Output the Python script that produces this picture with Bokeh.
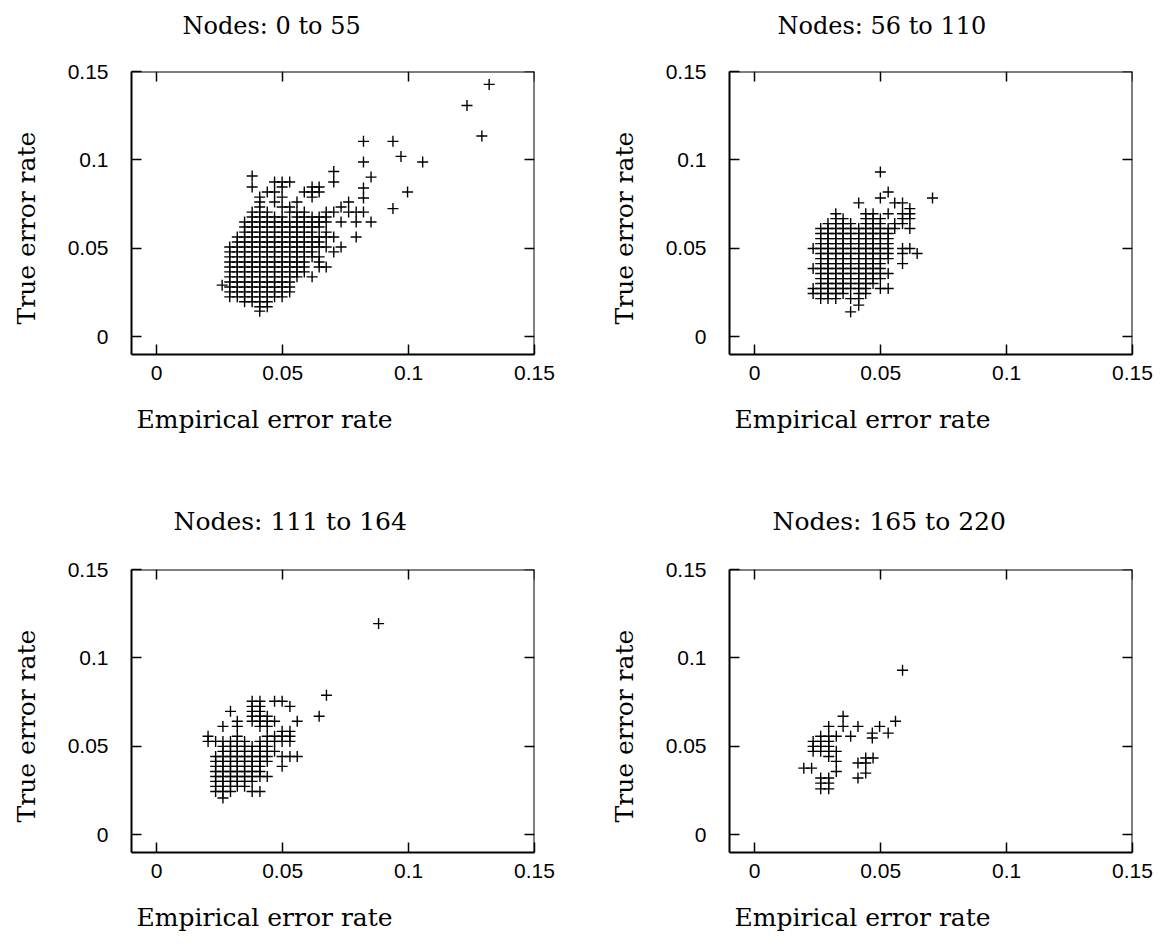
import math
from bokeh.plotting import figure
from bokeh.layouts import column, row
from bokeh.models import (Range1d, LinearAxis, FixedTicker, CustomJSTickFormatter,
                          Title, ColumnDataSource)
from bokeh.embed import file_html
from bokeh.resources import INLINE

# ---------------- data ----------------
X_RANGE = (-0.01, 0.15)
Y_RANGE = (-0.01, 0.15)
TICKS = [0, 0.05, 0.1, 0.15]
TITLES = ["Nodes: 0 to 55", "Nodes: 56 to 110", "Nodes: 111 to 164", "Nodes: 165 to 220"]
X_LABEL = "Empirical error rate"
Y_LABEL = "True error rate"

# Panel 1 (nodes 0-55): true error rate per row, empirical error rates in that row
rows_y_1 = [0.1427, 0.1308, 0.1135, 0.1105, 0.1020, 0.0988, 0.0935, 0.0909, 0.0903, 0.0875,
            0.0847, 0.0841, 0.0819, 0.0790, 0.0785, 0.0762, 0.0734, 0.0725, 0.0705, 0.0677,
            0.0649, 0.0621, 0.0592, 0.0564, 0.0536, 0.0508, 0.0480, 0.0452, 0.0423, 0.0395,
            0.0367, 0.0339, 0.0310, 0.0292, 0.0282, 0.0254, 0.0226, 0.0198, 0.0170, 0.0145]
rows_x_1 = [
    [0.1320],
    [0.1232],
    [0.1291],
    [0.0821, 0.0938],
    [0.0970],
    [0.0821, 0.1056],
    [0.0703],
    [0.0379],
    [0.0851],
    [0.0468, 0.0498, 0.0528, 0.0703],
    [0.0379, 0.0498, 0.0617, 0.0645],
    [0.0821],
    [0.0439, 0.0468, 0.0586, 0.0617, 0.0645, 0.0996],
    [0.0409, 0.0498, 0.0617],
    [0.0821],
    [0.0409, 0.0468, 0.0557, 0.0762],
    [0.0409, 0.0498, 0.0528, 0.0732],
    [0.0938],
    [0.0379, 0.0409, 0.0439, 0.0528, 0.0557, 0.0586, 0.0673, 0.0703, 0.0762, 0.0792, 0.0821],
    [0.0379, 0.0409, 0.0439, 0.0468, 0.0498, 0.0557, 0.0586, 0.0617, 0.0645, 0.0673],
    [0.0349, 0.0379, 0.0409, 0.0439, 0.0468, 0.0498, 0.0528, 0.0557, 0.0586, 0.0617, 0.0645, 0.0673, 0.0732, 0.0792, 0.0851],
    [0.0349, 0.0379, 0.0409, 0.0439, 0.0468, 0.0498, 0.0528, 0.0557, 0.0586, 0.0617, 0.0645],
    [0.0349, 0.0379, 0.0409, 0.0439, 0.0468, 0.0498, 0.0528, 0.0557, 0.0586, 0.0617, 0.0673],
    [0.0320, 0.0349, 0.0379, 0.0409, 0.0439, 0.0468, 0.0498, 0.0528, 0.0557, 0.0586, 0.0617, 0.0645, 0.0673, 0.0703, 0.0792],
    [0.0320, 0.0349, 0.0379, 0.0409, 0.0439, 0.0468, 0.0498, 0.0528, 0.0557, 0.0586, 0.0617, 0.0645],
    [0.0290, 0.0320, 0.0349, 0.0379, 0.0409, 0.0439, 0.0468, 0.0498, 0.0528, 0.0557, 0.0586, 0.0617, 0.0645, 0.0673, 0.0732],
    [0.0290, 0.0320, 0.0349, 0.0379, 0.0409, 0.0439, 0.0468, 0.0498, 0.0528, 0.0557, 0.0586, 0.0617, 0.0703],
    [0.0290, 0.0320, 0.0349, 0.0379, 0.0409, 0.0439, 0.0468, 0.0498, 0.0528, 0.0557, 0.0586, 0.0617, 0.0645],
    [0.0290, 0.0320, 0.0349, 0.0379, 0.0409, 0.0439, 0.0468, 0.0498, 0.0528, 0.0557, 0.0586, 0.0645],
    [0.0290, 0.0320, 0.0349, 0.0379, 0.0409, 0.0439, 0.0468, 0.0498, 0.0528, 0.0557, 0.0586, 0.0645, 0.0673],
    [0.0290, 0.0320, 0.0349, 0.0379, 0.0409, 0.0439, 0.0468, 0.0498, 0.0528, 0.0557, 0.0586],
    [0.0290, 0.0320, 0.0349, 0.0379, 0.0409, 0.0439, 0.0468, 0.0498, 0.0528, 0.0557, 0.0617],
    [0.0290, 0.0320, 0.0349, 0.0379, 0.0409, 0.0439, 0.0468, 0.0498, 0.0528],
    [0.0260],
    [0.0290, 0.0320, 0.0349, 0.0379, 0.0409, 0.0439, 0.0468, 0.0498, 0.0528],
    [0.0290, 0.0320, 0.0349, 0.0379, 0.0409, 0.0439, 0.0468, 0.0498, 0.0528],
    [0.0290, 0.0320, 0.0349, 0.0379, 0.0409, 0.0439, 0.0468, 0.0498],
    [0.0349, 0.0379, 0.0409, 0.0439],
    [0.0409, 0.0439],
    [0.0409],
]

# Panel 2 (nodes 56-110)
rows_y_2 = [0.0932, 0.0819, 0.0785, 0.0757, 0.0725, 0.0696, 0.0668, 0.0640, 0.0612, 0.0584,
            0.0555, 0.0527, 0.0499, 0.0471, 0.0442, 0.0414, 0.0386, 0.0358, 0.0329, 0.0301,
            0.0273, 0.0245, 0.0216, 0.0179, 0.0141]
rows_x_2 = [
    [0.0499],
    [0.0530],
    [0.0499, 0.0706],
    [0.0413, 0.0556, 0.0587],
    [0.0616],
    [0.0322, 0.0441, 0.0470, 0.0530, 0.0587, 0.0616],
    [0.0322, 0.0351, 0.0441, 0.0470, 0.0499, 0.0587, 0.0616],
    [0.0291, 0.0322, 0.0351, 0.0381, 0.0441, 0.0470, 0.0499, 0.0556, 0.0587],
    [0.0262, 0.0291, 0.0322, 0.0351, 0.0381, 0.0413, 0.0441, 0.0470, 0.0499, 0.0530, 0.0556, 0.0616],
    [0.0262, 0.0291, 0.0322, 0.0351, 0.0381, 0.0413, 0.0441, 0.0470, 0.0499, 0.0530],
    [0.0262, 0.0291, 0.0322, 0.0351, 0.0381, 0.0413, 0.0441, 0.0470, 0.0499, 0.0530],
    [0.0262, 0.0291, 0.0322, 0.0351, 0.0381, 0.0413, 0.0441, 0.0470, 0.0499, 0.0530],
    [0.0232, 0.0262, 0.0291, 0.0322, 0.0351, 0.0381, 0.0413, 0.0441, 0.0470, 0.0499, 0.0530, 0.0587, 0.0616],
    [0.0262, 0.0291, 0.0322, 0.0351, 0.0381, 0.0413, 0.0441, 0.0470, 0.0499, 0.0530, 0.0587, 0.0645],
    [0.0262, 0.0291, 0.0322, 0.0351, 0.0381, 0.0413, 0.0441, 0.0470, 0.0499, 0.0530],
    [0.0262, 0.0291, 0.0322, 0.0351, 0.0381, 0.0413, 0.0441, 0.0470, 0.0499, 0.0587],
    [0.0232, 0.0262, 0.0291, 0.0322, 0.0351, 0.0381, 0.0413, 0.0441, 0.0470, 0.0499],
    [0.0262, 0.0291, 0.0322, 0.0351, 0.0381, 0.0413, 0.0441, 0.0470, 0.0499, 0.0530],
    [0.0262, 0.0291, 0.0322, 0.0351, 0.0381, 0.0413, 0.0441, 0.0470, 0.0499],
    [0.0262, 0.0291, 0.0322, 0.0351, 0.0381, 0.0413, 0.0441, 0.0470],
    [0.0232, 0.0262, 0.0291, 0.0322, 0.0351, 0.0381, 0.0413, 0.0441, 0.0499, 0.0530],
    [0.0232, 0.0262, 0.0291, 0.0322, 0.0351, 0.0413, 0.0441],
    [0.0262, 0.0291, 0.0322, 0.0381, 0.0413],
    [0.0413],
    [0.0381],
]

# Panel 3 (nodes 111-164)
rows_y_3 = [0.1194, 0.0789, 0.0755, 0.0726, 0.0698, 0.0670, 0.0642, 0.0613, 0.0585, 0.0557,
            0.0528, 0.0500, 0.0472, 0.0443, 0.0415, 0.0387, 0.0358, 0.0330, 0.0302, 0.0274,
            0.0245, 0.0208]
rows_x_3 = [
    [0.0881],
    [0.0674],
    [0.0379, 0.0410, 0.0468, 0.0498],
    [0.0379, 0.0410, 0.0529],
    [0.0293, 0.0379, 0.0410],
    [0.0379, 0.0410, 0.0439, 0.0645],
    [0.0320, 0.0379, 0.0410, 0.0439, 0.0468, 0.0558],
    [0.0263, 0.0320, 0.0410, 0.0439],
    [0.0498, 0.0529],
    [0.0204, 0.0320, 0.0439, 0.0468, 0.0498, 0.0529],
    [0.0204, 0.0234, 0.0263, 0.0293, 0.0320, 0.0349, 0.0410, 0.0439, 0.0468, 0.0498, 0.0529],
    [0.0263, 0.0293, 0.0320, 0.0349, 0.0379, 0.0410, 0.0439],
    [0.0263, 0.0293, 0.0320, 0.0349, 0.0379, 0.0410, 0.0439, 0.0468],
    [0.0234, 0.0263, 0.0293, 0.0320, 0.0349, 0.0379, 0.0410, 0.0439, 0.0498, 0.0529, 0.0558],
    [0.0234, 0.0263, 0.0293, 0.0320, 0.0349, 0.0379, 0.0410, 0.0439],
    [0.0234, 0.0263, 0.0293, 0.0320, 0.0349, 0.0379, 0.0410, 0.0498],
    [0.0234, 0.0263, 0.0293, 0.0320, 0.0349, 0.0379, 0.0410],
    [0.0234, 0.0263, 0.0293, 0.0320, 0.0349, 0.0379, 0.0410, 0.0439],
    [0.0234, 0.0263, 0.0293, 0.0320, 0.0349, 0.0379],
    [0.0234, 0.0263, 0.0293, 0.0320, 0.0349],
    [0.0234, 0.0263, 0.0293, 0.0379, 0.0410],
    [0.0263],
]

# Panel 4 (nodes 165-220)
rows_y_4 = [0.0930, 0.0670, 0.0642, 0.0613, 0.0575, 0.0557, 0.0547, 0.0528, 0.0500, 0.0472,
            0.0443, 0.0434, 0.0415, 0.0406, 0.0377, 0.0358, 0.0349, 0.0321, 0.0292, 0.0260]
rows_x_4 = [
    [0.0587],
    [0.0351],
    [0.0559],
    [0.0294, 0.0351, 0.0410, 0.0496],
    [0.0467, 0.0530],
    [0.0262, 0.0294, 0.0324, 0.0381],
    [0.0467],
    [0.0232, 0.0262, 0.0294],
    [0.0232, 0.0262, 0.0294],
    [0.0232, 0.0262, 0.0294, 0.0324],
    [0.0294],
    [0.0441, 0.0470],
    [0.0324],
    [0.0410, 0.0441],
    [0.0195, 0.0226],
    [0.0324],
    [0.0441],
    [0.0262, 0.0294, 0.0410],
    [0.0262, 0.0294],
    [0.0262, 0.0294],
]

PANELS = [(rows_y_1, rows_x_1), (rows_y_2, rows_x_2), (rows_y_3, rows_x_3), (rows_y_4, rows_x_4)]

# ---------------- styling ----------------
SERIF = "DejaVu Serif"
SANS = "Liberation Sans"


def to_points(rows_y, rows_x):
    xs, ys = [], []
    for yv, xr in zip(rows_y, rows_x):
        for xv in xr:
            xs.append(xv)
            ys.append(yv)
    return xs, ys


def style_axis(ax, labels, standoff):
    ax.ticker = FixedTicker(ticks=TICKS)
    if labels:
        ax.formatter = CustomJSTickFormatter(code="return tick.toString()")
    else:
        ax.formatter = CustomJSTickFormatter(code="return ''")
    ax.major_tick_in = 10
    ax.major_tick_out = 0
    ax.minor_tick_in = 0
    ax.minor_tick_out = 0
    ax.major_tick_line_width = 1.5
    ax.major_tick_line_color = "black"
    ax.minor_tick_line_color = None
    ax.axis_line_width = 2
    ax.axis_line_color = "black"
    ax.major_label_text_font = SANS
    ax.major_label_text_font_size = "21px"
    ax.major_label_text_color = "black"
    ax.major_label_standoff = standoff


def spacer(size):
    return Title(text=" ", text_font_size="1px", standoff=size)


def text_title(text, fsize, align_offset, valign, standoff=4):
    return Title(text=text, align="left", offset=align_offset, vertical_align=valign,
                 standoff=standoff, text_font=SERIF, text_font_size=fsize,
                 text_font_style="normal", text_color="black")


def make_panel(i, width, height, right, bottom, title_dx, title_gap, tsize):
    p = figure(width=width, height=height,
               x_range=Range1d(*X_RANGE), y_range=Range1d(*Y_RANGE),
               output_backend="svg", toolbar_location=None,
               min_border_left=131, min_border_right=right,
               min_border_top=71, min_border_bottom=bottom,
               background_fill_color="white", border_fill_color="white",
               outline_line_color=None)
    p.grid.visible = False
    p.add_layout(LinearAxis(fixed_location=Y_RANGE[1]), "above")
    p.add_layout(LinearAxis(fixed_location=X_RANGE[1]), "right")
    style_axis(p.below[0], True, 11)
    style_axis(p.left[0], True, 23)
    style_axis(p.above[0], False, 0)
    style_axis(p.right[0], False, 0)

    xs, ys = to_points(PANELS[i][0], PANELS[i][1])
    src = ColumnDataSource(data=dict(x=xs, y=ys))
    p.scatter(x="x", y="y", source=src, marker="cross", size=11,
              line_color="black", line_width=1.4)

    # title above
    p.add_layout(spacer(title_gap), "above")
    p.add_layout(text_title(TITLES[i], tsize, title_dx, "bottom"), "above")
    # x label below
    p.add_layout(spacer(17), "below")
    p.add_layout(text_title(X_LABEL, "25px", 5, "top"), "below")
    # y label left
    p.add_layout(spacer(19), "left")
    p.add_layout(text_title(Y_LABEL, "25px", 30, "bottom"), "left")
    return p


p1 = make_panel(0, 598, 498, 64, 144, 51, 27, "24px")
p2 = make_panel(1, 567, 498, 33, 144, 48, 27, "24px")
p3 = make_panel(2, 598, 447, 64, 93, 42, 29, "25px")
p4 = make_panel(3, 567, 447, 33, 93, 43, 29, "25px")

layout = column(row(p1, p2), row(p3, p4))
open("out.html", "w").write(file_html(layout, INLINE))
